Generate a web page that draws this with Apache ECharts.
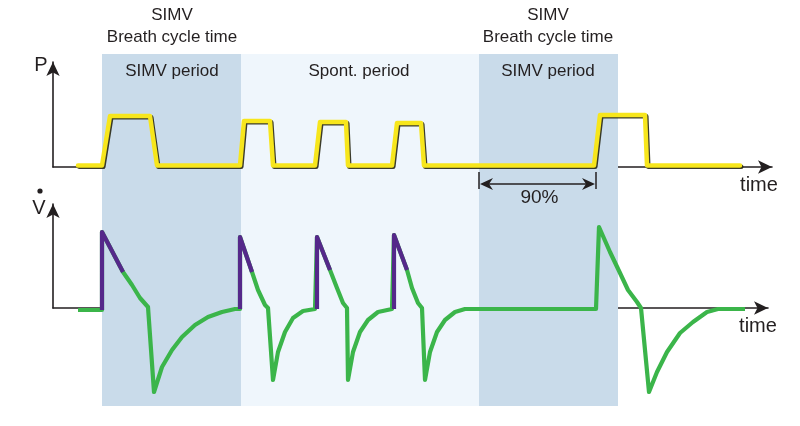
<!DOCTYPE html>
<html><head><meta charset="utf-8">
<script src="https://cdn.jsdelivr.net/npm/echarts@6/dist/echarts.min.js"></script>
<style>html,body{margin:0;padding:0;background:#fff}#c{width:800px;height:426px}</style>
</head><body><div id="c"></div>
<script>
// ---- data (time in arbitrary units) ----
const pressureTime  = [25, 49, 57, 97, 104, 187, 191, 217, 220, 262, 267, 293, 295, 339, 344, 368, 371, 541, 547, 592, 594, 687];
const pressureValue = [1.5,1.5,51, 51, 1.5, 1.5, 46, 46, 1.5, 1.5, 45, 45, 1.5, 1.5, 44, 44, 1.5, 1.5, 52, 52, 1.5, 1.5];

const flowTime  = [25, 49, 49, 70, 79, 87, 95, 101, 109, 119, 129, 142, 155, 169, 182,
                   187, 187, 199, 205, 212, 215, 220, 225, 232, 240, 250, 262,
                   264, 264, 277, 284, 290, 294, 295, 300, 307, 315, 325, 339,
                   341, 341, 354, 359, 365, 369, 372, 377, 384, 392, 402, 412,
                   543, 546, 557, 567, 575, 584, 588, 596, 604, 614, 627, 640, 654, 665, 692];
const flowValue = [-2, -2, 76, 36, 23, 10, 1, -84, -59, -42, -29, -17, -9, -4, -1,
                   -1, 71, 36, 18, 3, 0, -72, -44, -24, -10, -3, -1,
                   -1, 71, 38, 20, 5, 0, -72, -44, -24, -12, -4, -1,
                   -1, 73, 38, 20, 5, 0, -72, -44, -24, -12, -4, -1,
                   -1, 81, 56, 35, 18, 6, 0, -84, -64, -44, -25, -14, -4, -1, -1];

// purple (triggered-inspiration) parts: [startIndex, endIndex] into the flow arrays
const purpleRanges = [[1, 3], [15, 17], [27, 29], [39, 41]];

const simvPeriods  = [[49, 188], [426, 565]];
const spontPeriods = [[188, 426]];
const ninetyPct    = [426, 543];

const headerLabels = [
  {t: 119, lines: ['SIMV', 'Breath cycle time'], period: 'SIMV period'},
  {t: 306, lines: [], period: 'Spont. period'},
  {t: 495, lines: ['SIMV', 'Breath cycle time'], period: 'SIMV period'}
];

// ---- chart ----
const zip = (a, b) => a.map((v, i) => [v, b[i]]);
const ink = '#231f20';
const chart = echarts.init(document.getElementById('c'), null, {renderer: 'canvas'});

const axisLine = {show: true, lineStyle: {color: ink, width: 1.6}, symbol: ['none', 'arrow'], symbolSize: [10, 14]};
const hiddenAxis = {show: false};
const plainAxis = {axisLine: axisLine, axisTick: {show: false}, axisLabel: {show: false}, splitLine: {show: false}};

const purpleSeries = purpleRanges.map(([s, e]) => ({
  type: 'line', xAxisIndex: 1, yAxisIndex: 1, clip: false, symbol: 'none', z: 4,
  data: zip(flowTime.slice(s, e + 1), flowValue.slice(s, e + 1)),
  lineStyle: {color: '#55288a', width: 4.2, cap: 'butt', join: 'round'}
}));

chart.setOption({
  animation: false,
  grid: [
    {left: 53, top: 62, width: 719, height: 105},
    {left: 53, top: 204, width: 715, height: 104},
    {left: 53, top: 54, width: 719, height: 352}
  ],
  xAxis: [
    Object.assign({type: 'value', gridIndex: 0, min: 0, max: 719}, plainAxis),
    Object.assign({type: 'value', gridIndex: 1, min: 0, max: 715}, plainAxis),
    Object.assign({type: 'value', gridIndex: 2, min: 0, max: 719}, hiddenAxis)
  ],
  yAxis: [
    Object.assign({type: 'value', gridIndex: 0, min: 0, max: 105}, plainAxis),
    Object.assign({type: 'value', gridIndex: 1, min: 0, max: 104}, plainAxis),
    Object.assign({type: 'value', gridIndex: 2, min: 0, max: 1}, hiddenAxis)
  ],
  series: [
    {
      type: 'line', xAxisIndex: 2, yAxisIndex: 2, z: -5, symbol: 'none', silent: true,
      data: [[0, 0]], lineStyle: {opacity: 0},
      markArea: {
        silent: true,
        data: simvPeriods.map(p => [{xAxis: p[0], itemStyle: {color: '#c9dbea'}}, {xAxis: p[1]}])
          .concat(spontPeriods.map(p => [{xAxis: p[0], itemStyle: {color: '#eff6fc'}}, {xAxis: p[1]}]))
      }
    },
    {
      type: 'line', xAxisIndex: 0, yAxisIndex: 0, clip: false, symbol: 'none', z: 3,
      data: zip(pressureTime, pressureValue),
      lineStyle: {color: '#f7e61c', width: 4.5, join: 'round', cap: 'round', shadowColor: 'rgba(40,40,20,0.9)', shadowBlur: 0, shadowOffsetX: 1.3, shadowOffsetY: 1.3}
    },
    {
      type: 'line', xAxisIndex: 1, yAxisIndex: 1, clip: false, symbol: 'none', z: 3,
      data: zip(flowTime, flowValue),
      lineStyle: {color: '#3bb54a', width: 4.2, join: 'round'}
    }
  ].concat(purpleSeries)
});

// ---- annotations ----
const txt = (x, y, text, size) => ({
  type: 'text', x: x, y: y, z: 10,
  style: {text: text, font: size + 'px "Liberation Sans", Arial, sans-serif', fill: ink, align: 'center', verticalAlign: 'middle'}
});
const g = [];
headerLabels.forEach(h => {
  const px = chart.convertToPixel({gridIndex: 2}, [h.t, 0])[0];
  if (h.lines.length) {
    g.push(txt(px, 15, h.lines[0], 17));
    g.push(txt(px, 37, h.lines[1], 17));
  }
  g.push(txt(px, 71, h.period, 17));
});
const pEnd = chart.convertToPixel({gridIndex: 0}, [719, 0]);
const fEnd = chart.convertToPixel({gridIndex: 1}, [715, 0]);
const pAxis = chart.convertToPixel({gridIndex: 0}, [0, 105]);
const fAxis = chart.convertToPixel({gridIndex: 1}, [0, 104]);
g.push(txt(pEnd[0] - 13, pEnd[1] + 18, 'time', 20));
g.push(txt(fEnd[0] - 10, fEnd[1] + 18, 'time', 20));
g.push(txt(pAxis[0] - 12, pAxis[1] + 3, 'P', 20));
g.push(txt(fAxis[0] - 14, fAxis[1] + 4, 'V', 20));
g.push({type: 'circle', z: 10, shape: {cx: fAxis[0] - 13, cy: fAxis[1] - 13, r: 2.6}, style: {fill: ink}});

// 90% dimension arrow
const a = chart.convertToPixel({gridIndex: 0}, [ninetyPct[0], 0]);
const b = chart.convertToPixel({gridIndex: 0}, [ninetyPct[1], 0]);
const ay = a[1] + 17;
g.push({type: 'line', z: 10, shape: {x1: a[0], y1: ay - 12, x2: a[0], y2: ay + 5}, style: {stroke: ink, lineWidth: 1.5}});
g.push({type: 'line', z: 10, shape: {x1: b[0], y1: ay - 12, x2: b[0], y2: ay + 5}, style: {stroke: ink, lineWidth: 1.5}});
g.push({type: 'line', z: 10, shape: {x1: a[0] + 6, y1: ay, x2: b[0] - 6, y2: ay}, style: {stroke: ink, lineWidth: 1.5}});
g.push({type: 'polygon', z: 10, shape: {points: [[a[0] + 1, ay], [a[0] + 14, ay - 6], [a[0] + 10, ay], [a[0] + 14, ay + 6]]}, style: {fill: ink}});
g.push({type: 'polygon', z: 10, shape: {points: [[b[0] - 1, ay], [b[0] - 14, ay - 6], [b[0] - 10, ay], [b[0] - 14, ay + 6]]}, style: {fill: ink}});
g.push(txt((a[0] + b[0]) / 2 + 2, ay + 14, '90%', 19));

chart.setOption({graphic: g});
</script>
</body></html>
